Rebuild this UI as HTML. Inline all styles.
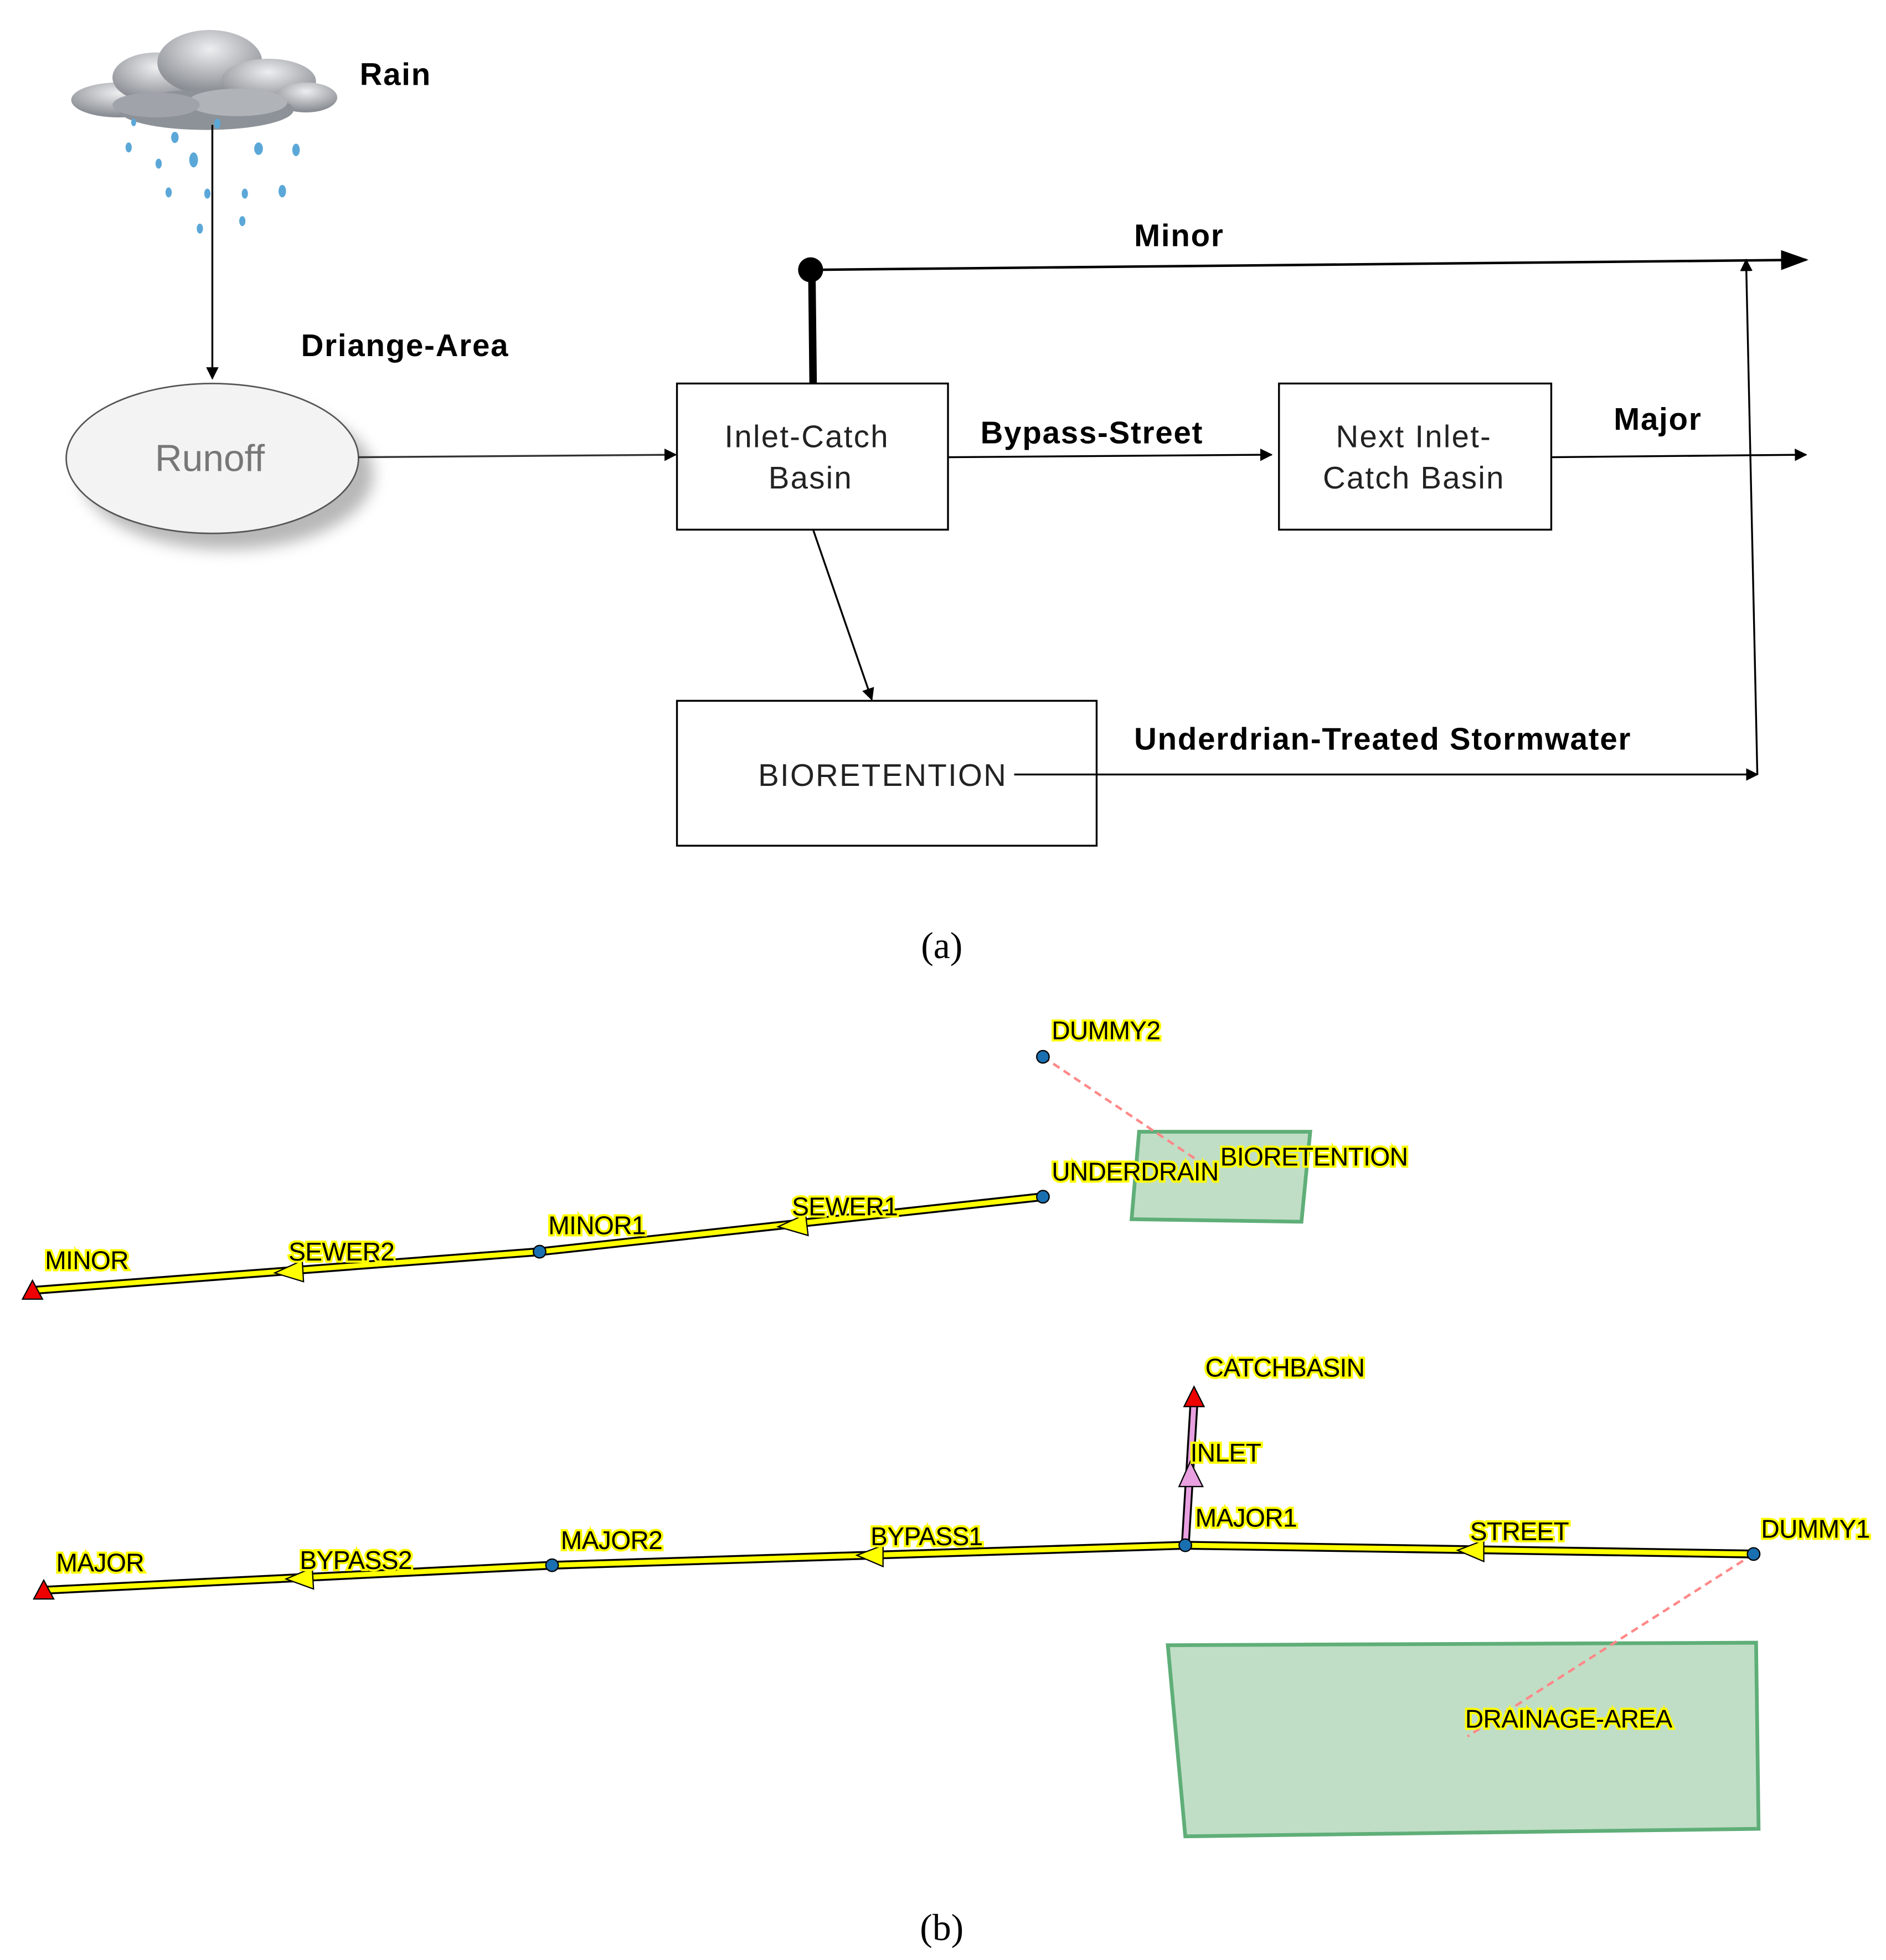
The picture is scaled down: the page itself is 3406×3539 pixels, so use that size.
<!DOCTYPE html>
<html><head><meta charset="utf-8"><style>
html,body{margin:0;padding:0;background:#fff}
svg{display:block}
.b{font-family:"Liberation Sans",sans-serif;font-weight:bold;font-size:25px;fill:#000;letter-spacing:0.8px}
.n{font-family:"Liberation Sans",sans-serif;font-size:25px;fill:#222;letter-spacing:1px}
.l{font-family:"Liberation Sans",sans-serif;font-size:20.5px;fill:#000;stroke:#ff0;stroke-width:3.5px;paint-order:stroke;letter-spacing:-0.3px}
</style></head><body>
<svg width="3406" height="3539" viewBox="0 0 1510 1569" xmlns="http://www.w3.org/2000/svg">
<defs>
<marker id="ar" markerWidth="10" markerHeight="10" refX="9" refY="5" orient="auto" markerUnits="userSpaceOnUse"><path d="M0,0 L10,5 L0,10z" fill="#000"/></marker>
<marker id="ar2" markerWidth="22" markerHeight="16" refX="20" refY="8" orient="auto" markerUnits="userSpaceOnUse"><path d="M0,0 L22,8 L0,16z" fill="#000"/></marker>
<radialGradient id="cg" cx="50%" cy="30%" r="65%"><stop offset="0" stop-color="#eeeef0"/><stop offset="1" stop-color="#8a8e94"/></radialGradient>
<filter id="sh" x="-20%" y="-20%" width="150%" height="160%"><feGaussianBlur stdDeviation="6"/></filter>
</defs>
<!-- cloud -->
<g>
<ellipse cx="95" cy="80" rx="38" ry="14" fill="url(#cg)"/>
<ellipse cx="125" cy="62" rx="35" ry="20" fill="url(#cg)"/>
<ellipse cx="168" cy="50" rx="42" ry="26" fill="url(#cg)"/>
<ellipse cx="215" cy="65" rx="38" ry="18" fill="url(#cg)"/>
<ellipse cx="245" cy="78" rx="25" ry="12" fill="url(#cg)"/>
<ellipse cx="165" cy="88" rx="70" ry="16" fill="#8d9298"/>
<ellipse cx="190" cy="82" rx="40" ry="11" fill="#b0b4b9"/>
<ellipse cx="125" cy="84" rx="35" ry="10" fill="#a0a4aa"/>
<g fill="#5ba8d8">
<ellipse cx="103" cy="118" rx="2.5" ry="4"/><ellipse cx="127" cy="131" rx="2.5" ry="4"/><ellipse cx="140" cy="110" rx="3" ry="4.5"/><ellipse cx="155" cy="128" rx="3.5" ry="6"/><ellipse cx="174" cy="99" rx="2.5" ry="4"/><ellipse cx="207" cy="119" rx="3.5" ry="5"/><ellipse cx="237" cy="120" rx="3" ry="5"/><ellipse cx="135" cy="154" rx="2.5" ry="4"/><ellipse cx="166" cy="155" rx="2.5" ry="4"/><ellipse cx="196" cy="155" rx="2.5" ry="4"/><ellipse cx="226" cy="153" rx="3" ry="5"/><ellipse cx="160" cy="183" rx="2.5" ry="4"/><ellipse cx="194" cy="177" rx="2.5" ry="4"/><ellipse cx="107" cy="98" rx="2" ry="3"/>
</g>
</g>
<text class="b" x="288" y="68">Rain</text>
<line x1="170" y1="100" x2="170" y2="303" stroke="#000" stroke-width="1.5" marker-end="url(#ar)"/>
<text class="b" x="241" y="285">Driange-Area</text>
<ellipse cx="182" cy="380" rx="117" ry="60" fill="#888" filter="url(#sh)" opacity="0.6"/>
<ellipse cx="170" cy="367" rx="117" ry="60" fill="#f3f3f3" stroke="#555" stroke-width="1.2"/>
<text x="168" y="377" text-anchor="middle" style="font-family:'Liberation Sans',sans-serif;font-size:30px;fill:#777">Runoff</text>
<line x1="287" y1="366" x2="541" y2="364" stroke="#333" stroke-width="1.5" marker-end="url(#ar)"/>
<rect x="542" y="307" width="217" height="117" fill="#fff" stroke="#000" stroke-width="1.5"/>
<text class="n" x="646" y="358" text-anchor="middle">Inlet-Catch</text>
<text class="n" x="649" y="391" text-anchor="middle">Basin</text>
<line x1="651" y1="307" x2="650" y2="216" stroke="#000" stroke-width="6"/>
<circle cx="649" cy="216" r="10" fill="#000"/>
<line x1="651" y1="216" x2="1446" y2="208" stroke="#000" stroke-width="2" marker-end="url(#ar2)"/>
<text class="b" x="908" y="197">Minor</text>
<text class="b" x="785" y="355">Bypass-Street</text>
<line x1="759" y1="366" x2="1018" y2="364" stroke="#000" stroke-width="1.5" marker-end="url(#ar)"/>
<rect x="1024" y="307" width="218" height="117" fill="#fff" stroke="#000" stroke-width="1.5"/>
<text class="n" x="1132" y="358" text-anchor="middle">Next Inlet-</text>
<text class="n" x="1132" y="391" text-anchor="middle">Catch Basin</text>
<line x1="1242" y1="366" x2="1446" y2="364" stroke="#000" stroke-width="1.5" marker-end="url(#ar)"/>
<text class="b" x="1292" y="344">Major</text>
<line x1="1407" y1="620" x2="1398" y2="208" stroke="#000" stroke-width="1.5" marker-end="url(#ar)"/>
<line x1="651" y1="424" x2="698" y2="560" stroke="#000" stroke-width="1.5" marker-end="url(#ar)"/>
<rect x="542" y="561" width="336" height="116" fill="#fff" stroke="#000" stroke-width="1.5"/>
<text class="n" x="607" y="629">BIORETENTION</text>
<line x1="812" y1="620" x2="1407" y2="620" stroke="#000" stroke-width="1.5" marker-end="url(#ar)"/>
<text class="b" x="908" y="600">Underdrian-Treated Stormwater</text>
<text x="754" y="767" text-anchor="middle" style="font-family:'Liberation Serif',serif;font-size:30px">(a)</text>

<!-- (b) -->
<polygon points="912,906 1049,906 1042,978 906,976" fill="#c0dec6" stroke="#5fae78" stroke-width="3"/>
<polygon points="935,1317 1406,1315 1408,1464 949,1470" fill="#c0dec6" stroke="#5fae78" stroke-width="3"/>
<line x1="835" y1="846" x2="965" y2="933" stroke="#f88" stroke-width="2" stroke-dasharray="6,4"/>
<line x1="1404" y1="1244" x2="1175" y2="1390" stroke="#f88" stroke-width="2" stroke-dasharray="6,4"/>
<g stroke-linejoin="round">
<polyline points="835,958 432,1002 26,1033" fill="none" stroke="#000" stroke-width="7"/>
<polyline points="835,958 432,1002 26,1033" fill="none" stroke="#ff0" stroke-width="4"/>
<polyline points="1404,1244 949,1237 442,1253 35,1273" fill="none" stroke="#000" stroke-width="7"/>
<polyline points="1404,1244 949,1237 442,1253 35,1273" fill="none" stroke="#ff0" stroke-width="4"/>
<line x1="949" y1="1237" x2="956" y2="1122" stroke="#000" stroke-width="7"/>
<line x1="949" y1="1237" x2="956" y2="1122" stroke="#e8a0e0" stroke-width="4"/>
</g>
<g stroke="#000" stroke-width="1" fill="#ff0">
<polygon points="623,982 645,972 647,989"/>
<polygon points="220,1019 242,1009 243,1026"/>
<polygon points="1167,1241 1188,1233 1188,1250"/>
<polygon points="686,1245 707,1237 707,1254"/>
<polygon points="229,1264 250,1255 251,1272"/>
<polygon points="953,1170 944,1190 963,1190" fill="#e8a0e0"/>
</g>
<g stroke="#000" stroke-width="1" fill="#e00">
<polygon points="26,1025 18,1040 34,1040"/>
<polygon points="35,1265 27,1280 43,1280"/>
<polygon points="956,1110 948,1126 964,1126"/>
</g>
<g fill="#1a6fb0" stroke="#000" stroke-width="1">
<circle cx="835" cy="846" r="5"/><circle cx="835" cy="958" r="5"/><circle cx="432" cy="1002" r="5"/>
<circle cx="442" cy="1253" r="5"/><circle cx="949" cy="1237" r="5"/><circle cx="1404" cy="1244" r="5"/>
</g>
<text class="l" x="842" y="832">DUMMY2</text>
<text class="l" x="842" y="945">UNDERDRAIN</text>
<text class="l" x="977" y="933">BIORETENTION</text>
<text class="l" x="634" y="973">SEWER1</text>
<text class="l" x="439" y="988">MINOR1</text>
<text class="l" x="231" y="1009">SEWER2</text>
<text class="l" x="36" y="1016">MINOR</text>
<text class="l" x="965" y="1102">CATCHBASIN</text>
<text class="l" x="953" y="1170">INLET</text>
<text class="l" x="957" y="1222">MAJOR1</text>
<text class="l" x="1177" y="1233">STREET</text>
<text class="l" x="1410" y="1231">DUMMY1</text>
<text class="l" x="697" y="1237">BYPASS1</text>
<text class="l" x="449" y="1240">MAJOR2</text>
<text class="l" x="240" y="1256">BYPASS2</text>
<text class="l" x="45" y="1258">MAJOR</text>
<text class="l" x="1173" y="1383">DRAINAGE-AREA</text>
<text x="754" y="1553" text-anchor="middle" style="font-family:'Liberation Serif',serif;font-size:30px">(b)</text>
</svg>
</body></html>
